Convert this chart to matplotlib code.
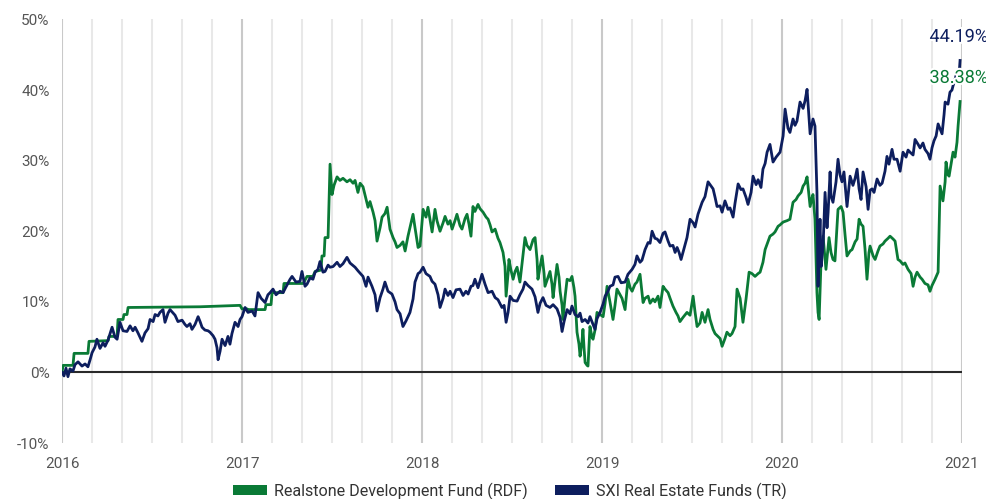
import matplotlib
matplotlib.use("Agg")
import matplotlib.pyplot as plt
import matplotlib.patheffects as pe
from matplotlib.patches import Patch
import numpy as np

# ---------------- data (time in decimal years, value in %) ----------------
sxi_t = [
    2016.000, 2016.011, 2016.022, 2016.033, 2016.044, 2016.061, 2016.072, 2016.089, 2016.111, 2016.128,
    2016.144, 2016.156, 2016.167, 2016.183, 2016.194, 2016.211, 2016.228, 2016.239, 2016.256, 2016.278,
    2016.294, 2016.306, 2016.322, 2016.339, 2016.361, 2016.378, 2016.394, 2016.406, 2016.422, 2016.444,
    2016.461, 2016.478, 2016.489, 2016.506, 2016.517, 2016.533, 2016.544, 2016.561, 2016.572, 2016.589,
    2016.600, 2016.617, 2016.628, 2016.644, 2016.667, 2016.683, 2016.694, 2016.711, 2016.722, 2016.739,
    2016.756, 2016.767, 2016.778, 2016.794, 2016.811, 2016.822, 2016.839, 2016.850, 2016.861, 2016.867,
    2016.878, 2016.889, 2016.906, 2016.922, 2016.933, 2016.944, 2016.961, 2016.978, 2016.989,
    2017.000, 2017.017, 2017.033, 2017.056, 2017.072, 2017.089, 2017.106, 2017.128, 2017.144, 2017.156,
    2017.172, 2017.189, 2017.211, 2017.228, 2017.244, 2017.267, 2017.278, 2017.300, 2017.322, 2017.333,
    2017.350, 2017.361, 2017.378, 2017.394, 2017.406, 2017.422, 2017.433, 2017.450, 2017.461, 2017.478,
    2017.489, 2017.506, 2017.528, 2017.544, 2017.561, 2017.583, 2017.600, 2017.628, 2017.644, 2017.672,
    2017.689, 2017.700, 2017.722, 2017.739, 2017.750, 2017.767, 2017.783, 2017.794, 2017.811, 2017.833,
    2017.850, 2017.861, 2017.878, 2017.894, 2017.911, 2017.933, 2017.950, 2017.961, 2017.978, 2017.989,
    2018.006, 2018.022, 2018.044, 2018.056, 2018.072, 2018.089, 2018.100, 2018.117, 2018.128, 2018.144,
    2018.156, 2018.172, 2018.189, 2018.211, 2018.228, 2018.244, 2018.256, 2018.272, 2018.283, 2018.294,
    2018.311, 2018.333, 2018.350, 2018.367, 2018.389, 2018.406, 2018.422, 2018.444, 2018.456, 2018.467,
    2018.478, 2018.489, 2018.506, 2018.528, 2018.544, 2018.561, 2018.572, 2018.589, 2018.611, 2018.628,
    2018.644, 2018.656, 2018.672, 2018.689, 2018.711, 2018.728, 2018.750, 2018.767, 2018.778, 2018.789,
    2018.806, 2018.822, 2018.833, 2018.850, 2018.867, 2018.878, 2018.889, 2018.906, 2018.922, 2018.933,
    2018.950, 2018.961, 2018.972, 2018.989,
    2019.006, 2019.017, 2019.033, 2019.044, 2019.061, 2019.072, 2019.089, 2019.106, 2019.128, 2019.144,
    2019.167, 2019.183, 2019.194, 2019.211, 2019.222, 2019.239, 2019.256, 2019.267, 2019.278, 2019.294,
    2019.306, 2019.322, 2019.339, 2019.350, 2019.367, 2019.378, 2019.394, 2019.406, 2019.417, 2019.428,
    2019.439, 2019.456, 2019.472, 2019.489, 2019.506, 2019.517, 2019.533, 2019.556, 2019.572, 2019.589,
    2019.606, 2019.617, 2019.628, 2019.639, 2019.656, 2019.667, 2019.683, 2019.700, 2019.711, 2019.728,
    2019.739, 2019.756, 2019.772, 2019.783, 2019.800, 2019.811, 2019.828, 2019.839, 2019.856, 2019.867,
    2019.883, 2019.894, 2019.906, 2019.917, 2019.933, 2019.950, 2019.967, 2019.989,
    2020.006, 2020.017, 2020.033, 2020.044, 2020.061, 2020.072, 2020.083, 2020.100, 2020.117, 2020.128,
    2020.139, 2020.150, 2020.156, 2020.167, 2020.172, 2020.183, 2020.189, 2020.194, 2020.200, 2020.206,
    2020.211, 2020.217, 2020.228, 2020.239, 2020.250, 2020.256, 2020.267, 2020.272, 2020.283, 2020.300,
    2020.311, 2020.322, 2020.333, 2020.344, 2020.361, 2020.378, 2020.394, 2020.406, 2020.417, 2020.428,
    2020.439, 2020.450, 2020.467, 2020.478, 2020.489, 2020.500, 2020.511, 2020.528, 2020.544, 2020.556,
    2020.572, 2020.583, 2020.594, 2020.611, 2020.622, 2020.639, 2020.656, 2020.672, 2020.689, 2020.700,
    2020.711, 2020.728, 2020.739, 2020.756, 2020.767, 2020.783, 2020.794, 2020.811, 2020.822, 2020.833,
    2020.844, 2020.856, 2020.867, 2020.878, 2020.889, 2020.900, 2020.906, 2020.922, 2020.933, 2020.944,
    2020.950, 2020.961, 2020.972, 2020.983, 2020.989,
]
sxi_v = [
    0.0, -0.5, 0.6, -0.6, 0.5, 0.2, 1.1, 1.5, 0.9, 1.2,
    0.8, 1.8, 2.8, 3.6, 4.7, 3.4, 4.2, 3.7, 4.6, 6.4,
    5.0, 4.7, 7.1, 5.9, 5.8, 6.6, 5.9, 6.4, 5.6, 4.4,
    5.6, 6.2, 7.5, 7.2, 8.2, 8.0, 8.5, 8.9, 7.1, 8.4,
    8.9, 8.4, 8.1, 7.2, 7.4, 6.8, 6.5, 6.9, 6.1, 6.8,
    7.9, 7.2, 6.4, 6.0, 5.9, 5.7, 5.2, 4.7, 3.5, 1.8,
    3.0, 4.7, 3.8, 5.1, 4.0, 5.5, 7.1, 6.5, 7.5,
    7.9, 9.2, 8.5, 8.7, 8.0, 11.3, 10.5, 9.9, 11.0, 11.3,
    11.8, 11.0, 11.5, 11.3, 12.1, 13.2, 13.6, 12.8, 12.9, 14.3,
    12.2, 12.5, 13.4, 13.2, 14.2, 14.6, 15.7, 14.2, 14.3, 15.2,
    14.9, 15.0, 15.6, 15.0, 15.4, 16.3, 15.5, 14.9, 14.4, 13.6,
    12.2, 13.5, 12.2, 11.0, 8.7, 10.6, 11.8, 12.8, 11.5, 11.1,
    10.0, 8.9, 8.3, 6.5, 7.3, 8.5, 10.4, 12.8, 14.0, 14.2,
    14.9, 14.0, 13.6, 12.9, 12.5, 11.0, 9.2, 10.5, 11.8, 10.9,
    11.5, 10.6, 11.7, 11.8, 10.9, 11.5, 11.1, 12.2, 12.3, 13.2,
    12.0, 13.9, 12.5, 11.3, 11.5, 10.6, 10.3, 9.2, 9.5, 7.1,
    8.5, 10.8, 10.2, 10.1, 11.0, 11.8, 12.8, 12.3, 11.8, 10.7,
    8.5, 9.8, 10.6, 9.5, 9.2, 9.6, 9.0, 7.8, 5.8, 7.2,
    8.9, 8.3, 9.4, 8.2, 7.9, 8.4, 7.2, 7.5, 7.0, 7.9,
    6.8, 6.1, 7.6, 8.5,
    9.7, 10.8, 11.5, 12.2, 12.4, 13.5, 13.6, 12.7, 12.8, 13.9,
    14.6, 15.3, 16.5, 15.6, 15.9, 17.4, 18.4, 18.3, 20.0, 19.0,
    18.9, 18.4, 19.7, 19.9, 18.6, 17.9, 18.0, 17.0, 17.7, 17.0,
    16.0, 17.6, 19.1, 21.7, 21.2, 20.6, 22.4, 24.1, 24.9, 27.0,
    26.4, 26.0, 24.8, 23.5, 23.6, 22.7, 24.3, 23.1, 23.3, 22.0,
    24.0, 26.7, 25.9, 26.0, 24.8, 23.8, 25.5, 27.8, 26.6, 27.3,
    26.2, 28.8, 29.6, 31.2, 32.3, 29.8, 30.5, 31.2,
    33.5, 37.3, 34.6, 34.0, 35.9, 35.0, 35.6, 38.3, 37.4, 38.5,
    40.1, 36.0, 33.8, 35.3, 35.9, 34.9, 30.0, 25.5, 12.2, 18.0,
    21.7, 15.0, 17.9, 25.5, 20.5, 22.7, 28.4, 25.0, 24.1, 27.0,
    30.2, 28.0, 27.0, 28.4, 23.5, 27.8, 26.5, 27.5, 28.8, 26.0,
    24.5, 28.4, 26.3, 23.1, 25.8, 26.0, 25.5, 27.4, 26.5, 26.8,
    28.5, 30.6, 29.5, 31.6, 30.2, 30.2, 28.5, 31.2, 30.5, 31.5,
    31.2, 30.8, 33.0, 32.3, 31.8, 32.5, 31.6, 31.0, 30.2, 31.8,
    32.8, 33.5, 35.2, 34.5, 33.8, 36.5, 38.3, 38.0, 39.7, 40.0,
    40.6, 41.5, 42.6, 42.0, 44.19,
]

rdf_t = [
    2016.000, 2016.006, 2016.061, 2016.067, 2016.144, 2016.150, 2016.256, 2016.261, 2016.306, 2016.311,
    2016.339, 2016.344, 2016.361, 2016.367, 2016.767, 2016.989,
    2017.000, 2017.028, 2017.033, 2017.128, 2017.133, 2017.161, 2017.167, 2017.228, 2017.233, 2017.339,
    2017.344, 2017.361, 2017.394, 2017.406, 2017.439, 2017.444, 2017.456, 2017.461, 2017.478, 2017.489,
    2017.500, 2017.511, 2017.528, 2017.544, 2017.561, 2017.583, 2017.600, 2017.617, 2017.628, 2017.644,
    2017.656, 2017.672, 2017.689, 2017.700, 2017.711, 2017.728, 2017.739, 2017.750, 2017.767, 2017.778,
    2017.794, 2017.806, 2017.822, 2017.839, 2017.850, 2017.861, 2017.878, 2017.894, 2017.906, 2017.922,
    2017.933, 2017.950, 2017.961, 2017.978, 2017.989,
    2018.006, 2018.022, 2018.033, 2018.056, 2018.072, 2018.083, 2018.100, 2018.117, 2018.128, 2018.144,
    2018.156, 2018.167, 2018.183, 2018.194, 2018.211, 2018.222, 2018.239, 2018.250, 2018.261, 2018.272,
    2018.283, 2018.294, 2018.311, 2018.322, 2018.339, 2018.356, 2018.367, 2018.378, 2018.389, 2018.406,
    2018.422, 2018.433, 2018.450, 2018.461, 2018.467, 2018.478, 2018.483, 2018.494, 2018.506, 2018.517,
    2018.528, 2018.544, 2018.556, 2018.572, 2018.583, 2018.600, 2018.617, 2018.628, 2018.639, 2018.644,
    2018.656, 2018.667, 2018.678, 2018.683, 2018.700, 2018.711, 2018.722, 2018.728, 2018.739, 2018.750,
    2018.761, 2018.767, 2018.778, 2018.783, 2018.794, 2018.806, 2018.822, 2018.833, 2018.844, 2018.850,
    2018.861, 2018.872, 2018.878, 2018.889, 2018.894, 2018.900, 2018.906, 2018.917, 2018.922, 2018.933,
    2018.944, 2018.950, 2018.961, 2018.972, 2018.989,
    2019.006, 2019.017, 2019.028, 2019.044, 2019.061, 2019.072, 2019.083, 2019.100, 2019.111, 2019.128,
    2019.144, 2019.156, 2019.167, 2019.183, 2019.194, 2019.211, 2019.228, 2019.239, 2019.256, 2019.267,
    2019.283, 2019.294, 2019.311, 2019.322, 2019.339, 2019.350, 2019.367, 2019.378, 2019.394, 2019.411,
    2019.422, 2019.433, 2019.450, 2019.472, 2019.489, 2019.506, 2019.517, 2019.528, 2019.544, 2019.556,
    2019.572, 2019.589, 2019.600, 2019.617, 2019.628, 2019.644, 2019.656, 2019.667, 2019.683, 2019.694,
    2019.711, 2019.722, 2019.739, 2019.750, 2019.767, 2019.783, 2019.800, 2019.817, 2019.833, 2019.850,
    2019.867, 2019.878, 2019.894, 2019.906, 2019.922, 2019.933, 2019.950, 2019.961, 2019.978, 2019.989,
    2020.006, 2020.028, 2020.044, 2020.061, 2020.078, 2020.089, 2020.106, 2020.117, 2020.128, 2020.139,
    2020.150, 2020.156, 2020.167, 2020.172, 2020.183, 2020.194, 2020.200, 2020.206, 2020.217, 2020.228,
    2020.244, 2020.261, 2020.272, 2020.283, 2020.294, 2020.311, 2020.328, 2020.339, 2020.350, 2020.361,
    2020.378, 2020.389, 2020.406, 2020.417, 2020.428, 2020.439, 2020.450, 2020.461, 2020.472, 2020.483,
    2020.489, 2020.506, 2020.517, 2020.533, 2020.544, 2020.561, 2020.572, 2020.589, 2020.600, 2020.617,
    2020.628, 2020.644, 2020.656, 2020.672, 2020.683, 2020.700, 2020.717, 2020.728, 2020.739, 2020.750,
    2020.767, 2020.778, 2020.794, 2020.811, 2020.822, 2020.833, 2020.850, 2020.867, 2020.878, 2020.889,
    2020.894, 2020.906, 2020.911, 2020.922, 2020.928, 2020.939, 2020.950, 2020.961, 2020.972, 2020.978,
    2020.989,
]
rdf_v = [
    0.0, 1.0, 1.0, 2.7, 2.7, 4.4, 4.5, 5.1, 5.1, 7.5,
    7.5, 8.2, 8.2, 9.2, 9.3, 9.5,
    9.0, 9.0, 8.9, 8.9, 9.6, 9.6, 11.3, 11.3, 12.6, 12.6,
    12.8, 13.6, 13.6, 14.3, 14.5, 16.5, 16.5, 19.1, 19.1, 29.5,
    25.2, 26.5, 27.7, 27.2, 27.5, 27.0, 27.3, 26.8, 27.2, 25.5,
    26.8, 26.3, 24.5, 23.4, 24.2, 22.7, 21.5, 18.6, 20.5, 22.0,
    22.5, 23.4, 20.3, 19.1, 18.5, 17.7, 18.0, 18.5, 17.2, 19.3,
    20.5, 22.4, 20.5, 17.7, 17.9,
    23.1, 22.0, 23.4, 19.9, 23.1, 21.5, 20.0, 21.2, 22.1, 21.0,
    21.5, 20.3, 21.5, 22.4, 20.8, 20.3, 21.8, 22.4, 21.0, 19.3,
    23.5, 22.8, 23.8, 23.2, 22.7, 22.0, 21.7, 20.9, 19.9, 20.3,
    19.0, 18.4, 17.0, 15.0, 10.8, 14.0, 16.0, 14.5, 13.2, 14.3,
    14.9, 12.8, 15.5, 19.1, 18.0, 17.4, 18.8, 19.1, 16.0, 13.2,
    15.0, 16.5, 14.0, 12.2, 13.5, 14.3, 12.5, 10.6, 13.0, 15.3,
    13.5, 11.5, 9.5, 7.5, 10.5, 13.2, 13.0, 13.6, 12.0, 10.8,
    5.7, 4.0, 2.3, 4.5, 6.1, 3.5, 1.4, 1.0, 0.9, 6.5,
    5.0, 4.7, 6.0, 8.5, 8.2,
    7.9, 9.8, 12.2, 10.0, 7.5, 9.5, 11.8, 11.0, 10.5, 8.9,
    13.2, 12.0, 11.5, 12.5, 12.8, 13.9, 9.9, 10.5, 10.8, 9.8,
    10.4, 10.0, 10.8, 9.2, 12.2, 11.8, 11.3, 10.5, 9.4, 8.5,
    8.0, 7.2, 7.8, 8.5, 8.1, 10.8, 8.5, 6.5, 7.0, 8.5,
    7.1, 8.9, 7.5, 6.1, 5.5, 5.1, 4.8, 3.7, 4.8, 5.7,
    5.2, 5.5, 6.5, 11.8, 10.5, 7.1, 10.4, 14.2, 14.0, 13.6,
    14.0, 14.2, 15.6, 17.4, 18.5, 19.3, 19.6, 19.9, 20.7, 20.9,
    21.3, 21.5, 21.7, 24.1, 24.5, 25.0, 25.5, 26.4, 26.8, 27.7,
    25.0, 23.5, 24.8, 25.2, 21.7, 11.3, 8.5, 7.5, 16.0, 19.3,
    14.6, 19.1, 17.0, 16.0, 15.8, 23.1, 23.5, 22.7, 19.5, 16.5,
    17.2, 17.4, 18.5, 18.9, 21.7, 21.0, 20.7, 17.5, 13.2, 17.0,
    17.9, 16.5, 16.0, 17.2, 17.9, 18.2, 18.6, 19.0, 19.3, 18.9,
    18.6, 16.0, 15.8, 15.3, 15.5, 14.6, 14.0, 12.2, 13.5, 14.2,
    13.5, 13.2, 12.6, 12.4, 11.5, 12.3, 13.2, 14.2, 26.4, 25.0,
    24.3, 27.0, 29.8, 28.0, 27.8, 29.5, 31.2, 30.5, 32.6, 34.9,
    38.38,
]

series_names = ["Realstone Development Fund (RDF)", "SXI Real Estate Funds (TR)"]
year_ticks = [2016, 2017, 2018, 2019, 2020, 2021]
y_ticks = [-10, 0, 10, 20, 30, 40, 50]

# ---------------- style ----------------
GREEN = "#0a7a36"
NAVY = "#0d1e5e"
FONT = ["Roboto", "DejaVu Sans"]
plt.rcParams["font.family"] = FONT

fig = plt.figure(figsize=(9.86, 4.99), dpi=100)
ax = fig.add_axes([0.0629, 0.1122, 0.9128, 0.8488])

ax.set_xlim(year_ticks[0], year_ticks[-1])
ax.set_ylim(y_ticks[0], y_ticks[-1])

# vertical grid: every two months light, years darker
for k in range(0, 6 * (year_ticks[-1] - year_ticks[0]) + 1):
    xv = year_ticks[0] + k / 6.0
    if k % 6 == 0:
        ax.axvline(xv, color="#c9c9c9", lw=1.5, zorder=0)
    else:
        ax.axvline(xv, color="#e8e8e8", lw=1.5, zorder=0)

ax.axhline(0, color="#2a2a2a", lw=1.5, zorder=1)

ax.plot(rdf_t, rdf_v, color=GREEN, lw=2.0, zorder=3, solid_joinstyle="round")
ax.plot(sxi_t, sxi_v, color=NAVY, lw=2.0, zorder=4, solid_joinstyle="round")

for sp in ax.spines.values():
    sp.set_visible(False)

ax.set_xticks(year_ticks)
ax.set_xticklabels([str(y) for y in year_ticks])
ax.set_yticks(y_ticks)
ax.set_yticklabels([f"{v}%" for v in y_ticks])
ax.tick_params(axis="both", length=0, labelsize=11, labelcolor="#555555")
ax.tick_params(axis="x", pad=10)
ax.tick_params(axis="y", pad=9)

# end labels
halo = [pe.withStroke(linewidth=3, foreground="white")]
ax.annotate(f"{sxi_v[-1]:.2f}%", xy=(sxi_t[-1], sxi_v[-1]), xytext=(-22, 17),
            textcoords="offset points", ha="left", va="center", fontsize=13,
            color=NAVY, annotation_clip=False, path_effects=halo, zorder=6)
ax.annotate(f"{rdf_v[-1]:.2f}%", xy=(rdf_t[-1], rdf_v[-1]), xytext=(-22, 17),
            textcoords="offset points", ha="left", va="center", fontsize=13,
            color=GREEN, annotation_clip=False, path_effects=halo, zorder=6)

handles = [Patch(facecolor=GREEN, edgecolor="none", label=series_names[0]),
           Patch(facecolor=NAVY, edgecolor="none", label=series_names[1])]
leg = fig.legend(handles=handles, loc="center", bbox_to_anchor=(0.517, 0.016),
                 ncol=2, frameon=False, fontsize=11.6, handlelength=2.1,
                 handleheight=0.6, handletextpad=0.45, columnspacing=1.7)
for t in leg.get_texts():
    t.set_color("#333333")

fig.savefig("out.png", dpi=100)
